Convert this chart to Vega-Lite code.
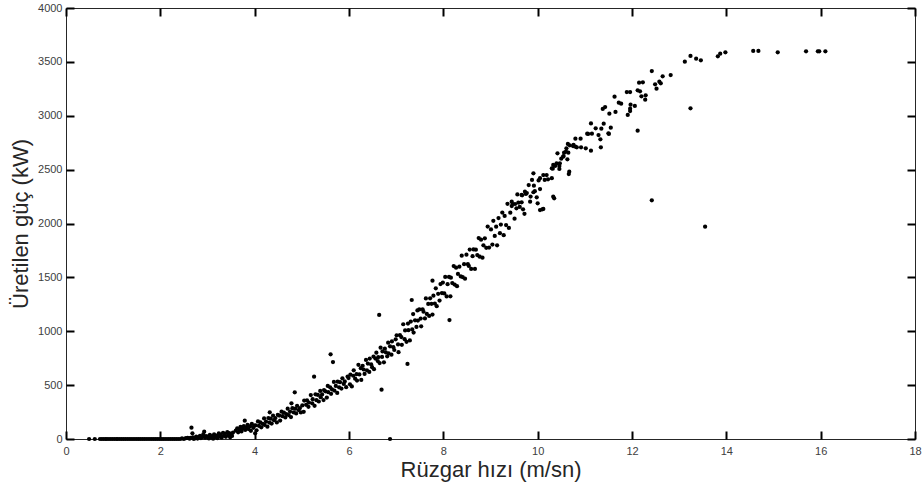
{
"$schema":"https://vega.github.io/schema/vega-lite/v6.json",
"width":849,"height":431,
"autosize":{"type":"none"},
"padding":{"left":66,"top":8,"right":7,"bottom":49},
"background":"white",
"config":{"view":{"stroke":"#262626","strokeWidth":1},"axis":{"domainColor":"#262626","labelColor":"#404040","titleColor":"#262626","labelFont":"Liberation Sans","titleFont":"Liberation Sans","labelFontSize":11,"titleFontSize":22,"titleFontWeight":"normal","grid":false}},
"data":{"values":[
{"hiz":0.49,"guc":0},{"hiz":0.61,"guc":0},{"hiz":0.72,"guc":0},{"hiz":0.76,"guc":0},{"hiz":0.8,"guc":0},{"hiz":0.84,"guc":0},{"hiz":0.87,"guc":0},{"hiz":0.91,"guc":0},{"hiz":0.95,"guc":0},{"hiz":0.99,"guc":0},{"hiz":1.03,"guc":0},{"hiz":1.07,"guc":0},{"hiz":1.1,"guc":0},{"hiz":1.14,"guc":0},{"hiz":1.18,"guc":0},{"hiz":1.22,"guc":0},{"hiz":1.26,"guc":0},{"hiz":1.3,"guc":0},{"hiz":1.34,"guc":0},{"hiz":1.38,"guc":0},{"hiz":1.42,"guc":0},{"hiz":1.46,"guc":0},{"hiz":1.5,"guc":0},{"hiz":1.54,"guc":0},{"hiz":1.58,"guc":0},{"hiz":1.62,"guc":0},{"hiz":1.66,"guc":0},{"hiz":1.7,"guc":0},{"hiz":1.74,"guc":0},{"hiz":1.78,"guc":0},{"hiz":1.82,"guc":0},{"hiz":1.86,"guc":0},{"hiz":1.9,"guc":0},{"hiz":1.94,"guc":0},{"hiz":1.98,"guc":0},{"hiz":2.02,"guc":0},{"hiz":2.06,"guc":0},{"hiz":2.1,"guc":0},{"hiz":2.14,"guc":0},{"hiz":2.18,"guc":0},{"hiz":2.22,"guc":0},{"hiz":2.26,"guc":0},{"hiz":2.3,"guc":0},{"hiz":2.34,"guc":0},{"hiz":2.38,"guc":0},{"hiz":2.42,"guc":0},{"hiz":2.46,"guc":5},{"hiz":2.5,"guc":0},{"hiz":2.54,"guc":8},{"hiz":2.58,"guc":10},
{"hiz":2.62,"guc":3},{"hiz":2.64,"guc":10},{"hiz":2.66,"guc":105},{"hiz":2.68,"guc":53},{"hiz":2.69,"guc":15},{"hiz":2.71,"guc":0},{"hiz":2.74,"guc":8},{"hiz":2.76,"guc":22},{"hiz":2.79,"guc":4},{"hiz":2.81,"guc":14},{"hiz":2.84,"guc":30},{"hiz":2.86,"guc":9},{"hiz":2.89,"guc":18},{"hiz":2.91,"guc":42},{"hiz":2.93,"guc":68},{"hiz":2.95,"guc":12},{"hiz":2.97,"guc":26},
{"hiz":3.01,"guc":22},{"hiz":3.03,"guc":5},{"hiz":3.05,"guc":38},{"hiz":3.08,"guc":14},{"hiz":3.1,"guc":27},{"hiz":3.12,"guc":3},{"hiz":3.14,"guc":44},{"hiz":3.17,"guc":19},{"hiz":3.19,"guc":31},{"hiz":3.21,"guc":8},{"hiz":3.24,"guc":52},{"hiz":3.26,"guc":24},{"hiz":3.28,"guc":40},{"hiz":3.3,"guc":12},{"hiz":3.33,"guc":58},{"hiz":3.35,"guc":30},{"hiz":3.37,"guc":47},{"hiz":3.39,"guc":20},{"hiz":3.42,"guc":63},{"hiz":3.44,"guc":36},{"hiz":3.46,"guc":55},{"hiz":3.48,"guc":16},{"hiz":3.5,"guc":44},{"hiz":3.52,"guc":28},{"hiz":3.54,"guc":60},
{"hiz":3.6,"guc":78},{"hiz":3.63,"guc":99},{"hiz":3.65,"guc":62},{"hiz":3.68,"guc":88},{"hiz":3.7,"guc":112},{"hiz":3.72,"guc":70},{"hiz":3.74,"guc":95},{"hiz":3.77,"guc":120},{"hiz":3.79,"guc":170},{"hiz":3.8,"guc":84},{"hiz":3.82,"guc":108},{"hiz":3.85,"guc":132},{"hiz":3.87,"guc":92},{"hiz":3.9,"guc":118},{"hiz":3.92,"guc":76},{"hiz":3.94,"guc":140},{"hiz":3.97,"guc":104},{"hiz":3.99,"guc":125},{"hiz":4.01,"guc":53},
{"hiz":4.02,"guc":127},{"hiz":4.04,"guc":81},{"hiz":4.07,"guc":163},{"hiz":4.09,"guc":122},{"hiz":4.12,"guc":154},{"hiz":4.14,"guc":108},{"hiz":4.17,"guc":141},{"hiz":4.2,"guc":191},{"hiz":4.21,"guc":130},{"hiz":4.24,"guc":162},{"hiz":4.27,"guc":114},{"hiz":4.29,"guc":194},{"hiz":4.31,"guc":152},{"hiz":4.32,"guc":248},{"hiz":4.34,"guc":189},{"hiz":4.36,"guc":143},{"hiz":4.39,"guc":216},{"hiz":4.41,"guc":175},{"hiz":4.44,"guc":194},{"hiz":4.47,"guc":154},{"hiz":4.49,"guc":225},{"hiz":4.52,"guc":217},{"hiz":4.54,"guc":171},{"hiz":4.57,"guc":253},{"hiz":4.59,"guc":212},{"hiz":4.62,"guc":244},{"hiz":4.65,"guc":200},{"hiz":4.67,"guc":231},{"hiz":4.7,"guc":281},{"hiz":4.72,"guc":222},{"hiz":4.75,"guc":254},{"hiz":4.77,"guc":204},{"hiz":4.78,"guc":331},{"hiz":4.8,"guc":286},{"hiz":4.83,"guc":246},{"hiz":4.85,"guc":433},{"hiz":4.86,"guc":281},{"hiz":4.88,"guc":237},{"hiz":4.9,"guc":308},{"hiz":4.93,"guc":268},{"hiz":4.96,"guc":287},{"hiz":4.98,"guc":246},
{"hiz":5.01,"guc":311},{"hiz":5.04,"guc":252},{"hiz":5.05,"guc":357},{"hiz":5.09,"guc":317},{"hiz":5.11,"guc":358},{"hiz":5.14,"guc":299},{"hiz":5.15,"guc":338},{"hiz":5.19,"guc":408},{"hiz":5.22,"guc":331},{"hiz":5.23,"guc":370},{"hiz":5.26,"guc":578},{"hiz":5.27,"guc":308},{"hiz":5.29,"guc":415},{"hiz":5.31,"guc":360},{"hiz":5.34,"guc":409},{"hiz":5.36,"guc":348},{"hiz":5.39,"guc":446},{"hiz":5.4,"guc":388},{"hiz":5.43,"guc":414},{"hiz":5.46,"guc":361},{"hiz":5.47,"guc":454},{"hiz":5.5,"guc":443},{"hiz":5.53,"guc":385},{"hiz":5.55,"guc":492},{"hiz":5.56,"guc":434},{"hiz":5.6,"guc":480},{"hiz":5.61,"guc":786},{"hiz":5.62,"guc":419},{"hiz":5.64,"guc":460},{"hiz":5.66,"guc":714},{"hiz":5.68,"guc":530},{"hiz":5.69,"guc":449},{"hiz":5.72,"guc":492},{"hiz":5.75,"guc":428},{"hiz":5.76,"guc":532},{"hiz":5.79,"guc":480},{"hiz":5.81,"guc":527},{"hiz":5.84,"guc":468},{"hiz":5.86,"guc":563},{"hiz":5.89,"guc":511},{"hiz":5.91,"guc":534},{"hiz":5.94,"guc":481},{"hiz":5.97,"guc":579},{"hiz":5.99,"guc":566},
{"hiz":6.02,"guc":507},{"hiz":6.03,"guc":598},{"hiz":6.06,"guc":488},{"hiz":6.09,"guc":587},{"hiz":6.1,"guc":638},{"hiz":6.13,"guc":560},{"hiz":6.16,"guc":602},{"hiz":6.17,"guc":542},{"hiz":6.2,"guc":688},{"hiz":6.22,"guc":599},{"hiz":6.25,"guc":657},{"hiz":6.26,"guc":548},{"hiz":6.29,"guc":679},{"hiz":6.31,"guc":645},{"hiz":6.33,"guc":604},{"hiz":6.36,"guc":734},{"hiz":6.38,"guc":637},{"hiz":6.4,"guc":700},{"hiz":6.43,"guc":622},{"hiz":6.44,"guc":746},{"hiz":6.47,"guc":692},{"hiz":6.49,"guc":667},{"hiz":6.52,"guc":765},{"hiz":6.53,"guc":648},{"hiz":6.56,"guc":746},{"hiz":6.58,"guc":801},{"hiz":6.61,"guc":723},{"hiz":6.62,"guc":759},{"hiz":6.64,"guc":1151},{"hiz":6.65,"guc":705},{"hiz":6.67,"guc":848},{"hiz":6.69,"guc":458},{"hiz":6.7,"guc":762},{"hiz":6.71,"guc":813},{"hiz":6.74,"guc":712},{"hiz":6.76,"guc":838},{"hiz":6.78,"guc":805},{"hiz":6.81,"guc":767},{"hiz":6.83,"guc":894},{"hiz":6.84,"guc":794},{"hiz":6.87,"guc":860},{"hiz":6.87,"guc":0},{"hiz":6.9,"guc":782},{"hiz":6.91,"guc":905},{"hiz":6.94,"guc":852},{"hiz":6.96,"guc":826},{"hiz":6.99,"guc":925},
{"hiz":7.01,"guc":962},{"hiz":7.04,"guc":878},{"hiz":7.05,"guc":806},{"hiz":7.08,"guc":964},{"hiz":7.11,"guc":946},{"hiz":7.12,"guc":874},{"hiz":7.15,"guc":1065},{"hiz":7.18,"guc":926},{"hiz":7.19,"guc":1008},{"hiz":7.22,"guc":902},{"hiz":7.24,"guc":697},{"hiz":7.25,"guc":1071},{"hiz":7.26,"guc":1010},{"hiz":7.29,"guc":915},{"hiz":7.31,"guc":1090},{"hiz":7.33,"guc":1290},{"hiz":7.34,"guc":1017},{"hiz":7.36,"guc":1159},{"hiz":7.37,"guc":988},{"hiz":7.4,"guc":1102},{"hiz":7.43,"guc":1040},{"hiz":7.45,"guc":1193},{"hiz":7.46,"guc":1099},{"hiz":7.49,"guc":1202},{"hiz":7.52,"guc":1118},{"hiz":7.53,"guc":1046},{"hiz":7.56,"guc":1204},{"hiz":7.58,"guc":1181},{"hiz":7.61,"guc":1119},{"hiz":7.63,"guc":1305},{"hiz":7.65,"guc":1161},{"hiz":7.68,"guc":1253},{"hiz":7.7,"guc":1142},{"hiz":7.72,"guc":1306},{"hiz":7.75,"guc":1255},{"hiz":7.77,"guc":1155},{"hiz":7.77,"guc":1469},{"hiz":7.79,"guc":1330},{"hiz":7.82,"guc":1257},{"hiz":7.84,"guc":1399},{"hiz":7.86,"guc":1233},{"hiz":7.89,"guc":1347},{"hiz":7.92,"guc":1285},{"hiz":7.94,"guc":1438},{"hiz":7.97,"guc":1354},{"hiz":7.99,"guc":1452},
{"hiz":8.02,"guc":1351},{"hiz":8.04,"guc":1504},{"hiz":8.07,"guc":1323},{"hiz":8.09,"guc":1437},{"hiz":8.12,"guc":1504},{"hiz":8.13,"guc":1104},{"hiz":8.15,"guc":1324},{"hiz":8.16,"guc":1497},{"hiz":8.19,"guc":1447},{"hiz":8.22,"guc":1605},{"hiz":8.24,"guc":1433},{"hiz":8.27,"guc":1590},{"hiz":8.29,"guc":1418},{"hiz":8.31,"guc":1532},{"hiz":8.34,"guc":1599},{"hiz":8.37,"guc":1509},{"hiz":8.39,"guc":1701},{"hiz":8.41,"guc":1503},{"hiz":8.44,"guc":1622},{"hiz":8.46,"guc":1488},{"hiz":8.49,"guc":1711},{"hiz":8.52,"guc":1622},{"hiz":8.54,"guc":1606},{"hiz":8.56,"guc":1758},{"hiz":8.59,"guc":1578},{"hiz":8.62,"guc":1697},{"hiz":8.64,"guc":1759},{"hiz":8.67,"guc":1578},{"hiz":8.69,"guc":1757},{"hiz":8.72,"guc":1707},{"hiz":8.75,"guc":1865},{"hiz":8.77,"guc":1692},{"hiz":8.8,"guc":1850},{"hiz":8.83,"guc":1683},{"hiz":8.85,"guc":1797},{"hiz":8.88,"guc":1863},{"hiz":8.91,"guc":1774},{"hiz":8.94,"guc":1971},{"hiz":8.97,"guc":1777},
{"hiz":9.01,"guc":1945},{"hiz":9.04,"guc":1805},{"hiz":9.06,"guc":2025},{"hiz":9.09,"guc":1885},{"hiz":9.12,"guc":1970},{"hiz":9.14,"guc":1797},{"hiz":9.17,"guc":2050},{"hiz":9.2,"guc":1910},{"hiz":9.22,"guc":1990},{"hiz":9.25,"guc":2102},{"hiz":9.28,"guc":1892},{"hiz":9.3,"guc":2070},{"hiz":9.33,"guc":1986},{"hiz":9.36,"guc":2183},{"hiz":9.39,"guc":1959},{"hiz":9.42,"guc":2100},{"hiz":9.45,"guc":2203},{"hiz":9.45,"guc":2162},{"hiz":9.47,"guc":2180},{"hiz":9.51,"guc":2045},{"hiz":9.52,"guc":2181},{"hiz":9.55,"guc":2141},{"hiz":9.57,"guc":2270},{"hiz":9.59,"guc":2193},{"hiz":9.62,"guc":2154},{"hiz":9.66,"guc":2197},{"hiz":9.66,"guc":2265},{"hiz":9.67,"guc":2262},{"hiz":9.69,"guc":2132},{"hiz":9.72,"guc":2090},{"hiz":9.73,"guc":2295},{"hiz":9.75,"guc":2274},{"hiz":9.77,"guc":2282},{"hiz":9.81,"guc":2357},{"hiz":9.84,"guc":2203},{"hiz":9.85,"guc":2250},{"hiz":9.88,"guc":2404},
{"hiz":9.91,"guc":2466},{"hiz":9.92,"guc":2351},{"hiz":9.91,"guc":2290},{"hiz":9.94,"guc":2300},{"hiz":9.98,"guc":2243},{"hiz":10.0,"guc":2187},{"hiz":10.02,"guc":2400},{"hiz":10.05,"guc":2420},{"hiz":10.05,"guc":2320},{"hiz":10.05,"guc":2125},{"hiz":10.1,"guc":2132},{"hiz":10.12,"guc":2450},{"hiz":10.12,"guc":2135},{"hiz":10.15,"guc":2404},{"hiz":10.19,"guc":2450},{"hiz":10.22,"guc":2410},{"hiz":10.3,"guc":2420},{"hiz":10.3,"guc":2512},{"hiz":10.32,"guc":2509},{"hiz":10.33,"guc":2543},{"hiz":10.33,"guc":2249},{"hiz":10.35,"guc":2234},{"hiz":10.37,"guc":2534},{"hiz":10.4,"guc":2558},{"hiz":10.42,"guc":2651},{"hiz":10.46,"guc":2534},{"hiz":10.46,"guc":2506},{"hiz":10.47,"guc":2559},{"hiz":10.5,"guc":2601},{"hiz":10.54,"guc":2620},{"hiz":10.55,"guc":2626},{"hiz":10.56,"guc":2657},{"hiz":10.6,"guc":2667},{"hiz":10.61,"guc":2698},{"hiz":10.63,"guc":2596},{"hiz":10.64,"guc":2738},{"hiz":10.65,"guc":2657},{"hiz":10.66,"guc":2459},{"hiz":10.67,"guc":2481},{"hiz":10.68,"guc":2726},{"hiz":10.75,"guc":2719},{"hiz":10.76,"guc":2729},{"hiz":10.8,"guc":2713},{"hiz":10.8,"guc":2787},{"hiz":10.83,"guc":2707},{"hiz":10.91,"guc":2787},{"hiz":10.92,"guc":2707},{"hiz":11.02,"guc":2698},{"hiz":11.05,"guc":2833},{"hiz":11.07,"guc":2831},{"hiz":11.13,"guc":2929},{"hiz":11.13,"guc":2676},{"hiz":11.15,"guc":2833},{"hiz":11.23,"guc":2883},{"hiz":11.29,"guc":2821},{"hiz":11.33,"guc":2781},{"hiz":11.34,"guc":2707},{"hiz":11.35,"guc":2880},{"hiz":11.4,"guc":2926},{"hiz":11.38,"guc":3063},{"hiz":11.43,"guc":3081},{"hiz":11.5,"guc":2837},{"hiz":11.51,"guc":2831},{"hiz":11.52,"guc":3019},{"hiz":11.55,"guc":2889},{"hiz":11.63,"guc":3177},{"hiz":11.65,"guc":3035},{"hiz":11.72,"guc":3121},{"hiz":11.77,"guc":3112},{"hiz":11.89,"guc":3220},{"hiz":11.91,"guc":3007},{"hiz":11.96,"guc":3066},{"hiz":11.96,"guc":3044},{"hiz":11.96,"guc":3220},{"hiz":11.97,"guc":3103},{"hiz":12.06,"guc":3091},{"hiz":12.12,"guc":3236},{"hiz":12.12,"guc":2861},{"hiz":12.15,"guc":3307},{"hiz":12.17,"guc":3227},{"hiz":12.2,"guc":3180},{"hiz":12.23,"guc":3310},{"hiz":12.28,"guc":3149},{"hiz":12.29,"guc":3190},{"hiz":12.42,"guc":3415},{"hiz":12.42,"guc":2215},{"hiz":12.49,"guc":3292},{"hiz":12.52,"guc":3251},{"hiz":12.58,"guc":3316},{"hiz":12.61,"guc":3301},{"hiz":12.65,"guc":3366},{"hiz":12.82,"guc":3378},{"hiz":13.12,"guc":3502},{"hiz":13.24,"guc":3555},{"hiz":13.24,"guc":3069},{"hiz":13.36,"guc":3530},{"hiz":13.46,"guc":3514},{"hiz":13.55,"guc":1970},{"hiz":13.82,"guc":3552},{"hiz":13.87,"guc":3576},{"hiz":13.98,"guc":3589},{"hiz":14.57,"guc":3601},{"hiz":14.68,"guc":3601},{"hiz":15.09,"guc":3589},{"hiz":15.69,"guc":3598},{"hiz":15.94,"guc":3598},{"hiz":15.97,"guc":3598},{"hiz":16.1,"guc":3598}
]},
"layer":[
{"mark":{"type":"circle","size":18,"color":"black","opacity":1},
 "encoding":{
  "x":{"field":"hiz","type":"quantitative","scale":{"domain":[0,18],"nice":false,"zero":false},
       "axis":{"orient":"bottom","values":[0,2,4,6,8,10,12,14,16,18],"ticks":true,"tickSize":-8,"tickColor":"black","tickWidth":2,"domain":false,"labelPadding":14,"title":"Rüzgar hızı (m/sn)","titlePadding":3,"labelFlush":false}},
  "y":{"field":"guc","type":"quantitative","scale":{"domain":[0,4000],"nice":false},
       "axis":{"orient":"left","values":[0,500,1000,1500,2000,2500,3000,3500,4000],"format":"d","ticks":true,"tickSize":-8,"tickColor":"black","tickWidth":2,"domain":false,"labelPadding":12,"title":"Üretilen güç (kW)","titlePadding":5,"labelFlush":false}}}},
{"mark":{"type":"circle","size":0,"opacity":0},
 "encoding":{
  "x":{"field":"hiz","type":"quantitative","scale":{"domain":[0,18],"nice":false,"zero":false},
       "axis":{"orient":"top","values":[0,2,4,6,8,10,12,14,16,18],"ticks":true,"tickSize":-8,"tickColor":"black","tickWidth":2,"labels":false,"domain":false,"title":null}},
  "y":{"field":"guc","type":"quantitative","scale":{"domain":[0,4000],"nice":false},
       "axis":{"orient":"right","values":[0,500,1000,1500,2000,2500,3000,3500,4000],"ticks":true,"tickSize":-8,"tickColor":"black","tickWidth":2,"labels":false,"domain":false,"title":null}}}}
],
"resolve":{"axis":{"x":"independent","y":"independent"}}
}
